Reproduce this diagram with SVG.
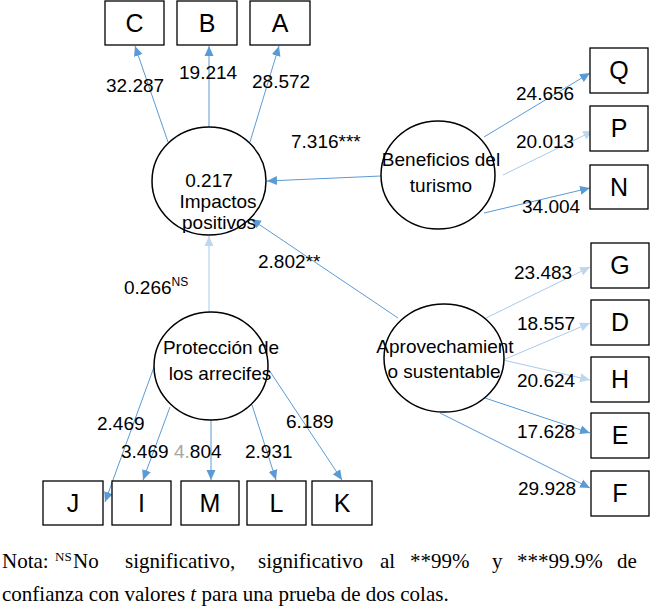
<svg xmlns="http://www.w3.org/2000/svg" width="650" height="612" viewBox="0 0 650 612">
<style>
.box{fill:#fff;stroke:#000;stroke-width:1.3}
.lv{fill:#fff;stroke:#000;stroke-width:1.5}
.bl{font-family:"Liberation Sans",Arial,sans-serif;font-size:25px;fill:#000;text-anchor:middle}
.ct{font-family:"Liberation Sans",Arial,sans-serif;font-size:19px;fill:#000;text-anchor:middle}
.lb{font-family:"Liberation Sans",Arial,sans-serif;font-size:19px;fill:#000}
.sup{font-size:12px}
.note{font-family:"Liberation Serif","Times New Roman",serif;font-size:21px;fill:#000}
.c{fill:none;stroke:#5B9BD5;stroke-width:1;marker-end:url(#ah)}
.cl{fill:none;stroke:#A9CAE9;stroke-width:1;marker-end:url(#ahl)}
</style>
<defs>
<marker id="ah" markerUnits="userSpaceOnUse" markerWidth="10" markerHeight="10" viewBox="0 0 10 10" refX="10" refY="5" orient="auto">
<path d="M0,0.5 L10,5 L0,9.5 Z" fill="#5B9BD5"/>
</marker>
<marker id="ahl" markerUnits="userSpaceOnUse" markerWidth="10" markerHeight="10" viewBox="0 0 10 10" refX="10" refY="5" orient="auto">
<path d="M0,0.5 L10,5 L0,9.5 Z" fill="#BDD7EE"/>
</marker>
</defs>

<g id="connectors">
<line class="c" x1="168" y1="142" x2="135" y2="46"/>
<line class="c" x1="209" y1="127" x2="209" y2="46"/>
<line class="c" x1="250" y1="142" x2="279" y2="46"/>
<line class="c" x1="381" y1="176" x2="267" y2="181"/>
<line class="c" x1="484" y1="137" x2="590" y2="73"/>
<line class="cl" x1="503" y1="175" x2="593" y2="131"/>
<line class="c" x1="484" y1="213" x2="590" y2="188"/>
<line class="c" x1="398" y1="318" x2="251" y2="219"/>
<line class="cl" x1="209" y1="312" x2="209" y2="236"/>
<line class="cl" x1="482" y1="320" x2="590" y2="267"/>
<line class="cl" x1="503" y1="360" x2="590" y2="323"/>
<line class="cl" x1="503" y1="360" x2="590" y2="380"/>
<line class="c" x1="482" y1="397" x2="590" y2="433"/>
<line class="c" x1="440" y1="413" x2="590" y2="488"/>
<line class="c" x1="154" y1="367" x2="105" y2="502"/>
<line class="c" x1="170" y1="407" x2="143" y2="480"/>
<line class="c" x1="211" y1="420" x2="211" y2="480"/>
<line class="c" x1="252" y1="405" x2="276" y2="480"/>
<line class="c" x1="269" y1="370" x2="342" y2="480"/>
</g>

<g id="labels">
<text class="lb" x="106" y="92">32.287</text>
<text class="lb" x="179" y="79">19.214</text>
<text class="lb" x="252" y="88">28.572</text>
<text class="lb" x="291" y="148">7.316***</text>
<text class="lb" x="516" y="100">24.656</text>
<text class="lb" x="516" y="148">20.013</text>
<text class="lb" x="522" y="213">34.004</text>
<text class="lb" x="258" y="268">2.802**</text>
<text class="lb" x="124" y="294">0.266<tspan class="sup" dy="-8">NS</tspan></text>
<text class="lb" x="514" y="279">23.483</text>
<text class="lb" x="517" y="330">18.557</text>
<text class="lb" x="517" y="387">20.624</text>
<text class="lb" x="517" y="438">17.628</text>
<text class="lb" x="518" y="495">29.928</text>
<text class="lb" x="97" y="430">2.469</text>
<text class="lb" x="121" y="458">3.469</text>
<text class="lb" x="174" y="458"><tspan fill="#A6A6A6">4.</tspan>804</text>
<text class="lb" x="245" y="458">2.931</text>
<text class="lb" x="286" y="428">6.189</text>
</g>

<g id="impactos">
<ellipse class="lv" cx="209" cy="181" rx="57" ry="54"/>
<text class="ct" x="209" y="187">0.217</text>
<text class="ct" x="218" y="208">Impactos</text>
<text class="ct" x="219" y="229">positivos</text>
</g>
<g id="beneficios">
<ellipse class="lv" cx="438" cy="175" rx="57" ry="54"/>
<text class="ct" x="441" y="166">Beneficios del</text>
<text class="ct" x="441" y="192">turismo</text>
</g>
<g id="aprovechamiento">
<ellipse class="lv" cx="444" cy="358" rx="60" ry="54"/>
<text class="ct" x="445" y="353">Aprovechamient</text>
<text class="ct" x="444" y="378">o sustentable</text>
</g>
<g id="proteccion">
<ellipse class="lv" cx="211" cy="366" rx="57" ry="54"/>
<text class="ct" x="221" y="354">Protección de</text>
<text class="ct" x="220" y="380">los arrecifes</text>
</g>

<g id="C"><rect class="box" x="105" y="1" width="59" height="44"/><text class="bl" x="134.5" y="32">C</text></g>
<g id="B"><rect class="box" x="177" y="1" width="60" height="44"/><text class="bl" x="207" y="32">B</text></g>
<g id="A"><rect class="box" x="250" y="1" width="60" height="44"/><text class="bl" x="280" y="32">A</text></g>
<g id="Q"><rect class="box" x="590" y="48" width="58" height="45"/><text class="bl" x="619" y="79">Q</text></g>
<g id="P"><rect class="box" x="590" y="106" width="58" height="45"/><text class="bl" x="619" y="137">P</text></g>
<g id="N"><rect class="box" x="590" y="165" width="58" height="44"/><text class="bl" x="619" y="196">N</text></g>
<g id="G"><rect class="box" x="591" y="243" width="58" height="45"/><text class="bl" x="620" y="274">G</text></g>
<g id="D"><rect class="box" x="591" y="300" width="58" height="45"/><text class="bl" x="620" y="331">D</text></g>
<g id="H"><rect class="box" x="591" y="357" width="58" height="45"/><text class="bl" x="620" y="388">H</text></g>
<g id="E"><rect class="box" x="591" y="413" width="58" height="45"/><text class="bl" x="620" y="444">E</text></g>
<g id="F"><rect class="box" x="591" y="471" width="58" height="45"/><text class="bl" x="620" y="502">F</text></g>
<g id="J"><rect class="box" x="43" y="481" width="60" height="44"/><text class="bl" x="73" y="512">J</text></g>
<g id="I"><rect class="box" x="112" y="481" width="59" height="44"/><text class="bl" x="141.5" y="512">I</text></g>
<g id="M"><rect class="box" x="181" y="481" width="58" height="44"/><text class="bl" x="210" y="512">M</text></g>
<g id="L"><rect class="box" x="247" y="481" width="59" height="44"/><text class="bl" x="276.5" y="512">L</text></g>
<g id="K"><rect class="box" x="312" y="481" width="60" height="44"/><text class="bl" x="342" y="512">K</text></g>

<g id="nota">
<text class="note" y="568"><tspan x="2">Nota:</tspan><tspan x="55" dy="-7" font-size="13">NS</tspan><tspan x="73" dy="7">No</tspan><tspan x="125">significativo,</tspan><tspan x="258">significativo</tspan><tspan x="380">al</tspan><tspan x="410">**99%</tspan><tspan x="492">y</tspan><tspan x="517">***99.9%</tspan><tspan x="617">de</tspan></text>
<text class="note" x="2" y="601">confianza con valores <tspan font-style="italic">t</tspan> para una prueba de dos colas.</text>
</g>
</svg>
